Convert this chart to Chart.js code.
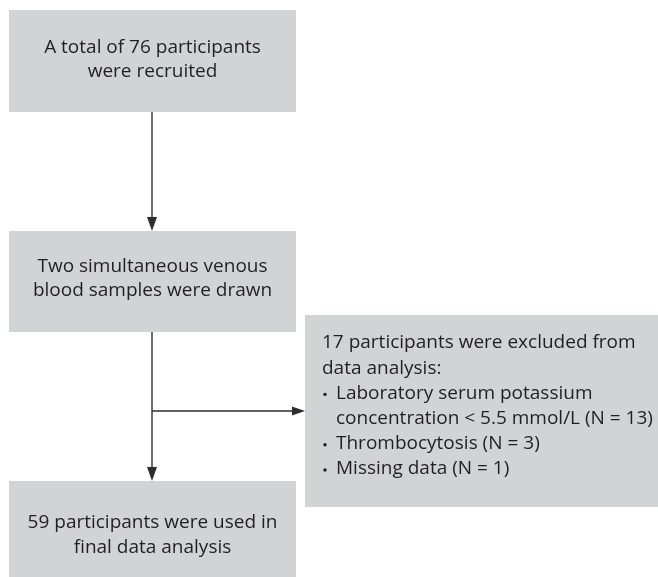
<!DOCTYPE html>
<html>
<head>
<meta charset="utf-8">
<script src="https://cdn.jsdelivr.net/npm/chart.js@4/dist/chart.umd.min.js"></script>
<style>
  html, body { margin: 0; padding: 0; background: #fff; }
  canvas { display: block; }
</style>
</head>
<body>
<canvas id="flow" width="658" height="577"></canvas>
<script>
// flow counts
const recruited = 76;
const excluded = 17;
const reasons = [["Laboratory serum potassium", "concentration < 5.5 mmol/L"], ["Thrombocytosis"], ["Missing data"]];
const reasonCounts = [13, 3, 1];
const analysed = 59;

const boxText = {
  recruit: ["A total of " + recruited + " participants", "were recruited"],
  samples: ["Two simultaneous venous", "blood samples were drawn"],
  final: [analysed + " participants were used in", "final data analysis"],
};

const excludedLines = [
  { text: excluded + " participants were excluded from", bullet: false },
  { text: "data analysis:", bullet: false },
];
reasons.forEach((lines, i) => {
  lines.forEach((line, j) => {
    const last = j === lines.length - 1;
    excludedLines.push({ text: last ? line + " (N = " + reasonCounts[i] + ")" : line, bullet: j === 0 });
  });
});

// layout, in the chart's own units (x 0..658, y 0..577 top-down)
const layout = {
  recruit: { x0: 9, x1: 296, y0: 10, y1: 112, lines: [48, 72] },
  samples: { x0: 9, x1: 296, y0: 231, y1: 332, lines: [267, 291] },
  final: { x0: 9, x1: 296, y0: 481, y1: 577, lines: [523, 548] },
  excluded: { x0: 305, x1: 658, y0: 315, y1: 507, textX: 322, bulletX: 325, indentX: 336, top: 343, step: 25.2 },
  trunkX: 152,
  branchY: 411,
};

const BOX_FILL = "#d1d3d4";
const INK = "#231f20";
const LINE = "#2e2e2e";
const FONT = "19px 'Open Sans', sans-serif";
const REF_LINE = "A total of " + recruited + " participants";
const REF_WIDTH = 217;

function arrowHead(ctx, x, y, dir) {
  ctx.beginPath();
  if (dir === "down") {
    ctx.moveTo(x, y);
    ctx.lineTo(x - 5, y - 14);
    ctx.lineTo(x + 5, y - 14);
  } else {
    ctx.moveTo(x, y);
    ctx.lineTo(x - 13, y - 4.5);
    ctx.lineTo(x - 13, y + 4.5);
  }
  ctx.closePath();
  ctx.fill();
}

function drawText(ctx, str, x, y, align, condense) {
  ctx.save();
  ctx.translate(x, y);
  ctx.scale(condense, 1);
  ctx.textAlign = align;
  ctx.fillText(str, 0, 0);
  ctx.restore();
}

const flowPlugin = {
  id: "flow",
  afterDatasetsDraw(chart) {
    const { ctx, scales } = chart;
    const px = v => scales.x.getPixelForValue(v);
    const py = v => scales.y.getPixelForValue(v);
    ctx.save();

    // boxes
    ["recruit", "samples", "final", "excluded"].forEach(k => {
      const b = layout[k];
      ctx.fillStyle = BOX_FILL;
      ctx.fillRect(px(b.x0), py(b.y0), px(b.x1) - px(b.x0), py(b.y1) - py(b.y0));
    });

    // connectors
    ctx.strokeStyle = LINE;
    ctx.fillStyle = LINE;
    ctx.lineWidth = 1.4;
    const tx = px(layout.trunkX);
    ctx.beginPath();
    ctx.moveTo(tx, py(layout.recruit.y1));
    ctx.lineTo(tx, py(layout.samples.y0) - 10);
    ctx.moveTo(tx, py(layout.samples.y1));
    ctx.lineTo(tx, py(layout.final.y0) - 10);
    ctx.moveTo(tx, py(layout.branchY));
    ctx.lineTo(px(layout.excluded.x0) - 10, py(layout.branchY));
    ctx.stroke();
    arrowHead(ctx, tx, py(layout.samples.y0), "down");
    arrowHead(ctx, tx, py(layout.final.y0), "down");
    arrowHead(ctx, px(layout.excluded.x0), py(layout.branchY), "right");

    // text, squeezed a little to the narrower face of the original
    ctx.fillStyle = INK;
    ctx.font = FONT;
    ctx.textBaseline = "middle";
    const condense = Math.min(1, REF_WIDTH / ctx.measureText(REF_LINE).width);
    ["recruit", "samples", "final"].forEach(k => {
      const b = layout[k];
      const cx = px((b.x0 + b.x1) / 2);
      boxText[k].forEach((line, i) => drawText(ctx, line, cx, py(b.lines[i]), "center", condense));
    });

    const e = layout.excluded;
    let inBullets = false;
    excludedLines.forEach((l, i) => {
      const y = py(e.top + i * e.step);
      if (l.bullet) {
        inBullets = true;
        ctx.beginPath();
        ctx.arc(px(e.bulletX), y + 1, 1.7, 0, Math.PI * 2);
        ctx.fill();
      }
      drawText(ctx, l.text, px(inBullets ? e.indentX : e.textX), y, "left", condense);
    });
    ctx.restore();
  },
};

new Chart(document.getElementById("flow"), {
  type: "scatter",
  data: { datasets: [{ data: [], pointRadius: 0 }] },
  options: {
    responsive: false,
    animation: false,
    layout: { padding: 0 },
    plugins: { legend: { display: false }, tooltip: { enabled: false } },
    scales: {
      x: { type: "linear", min: 0, max: 658, display: false },
      y: { type: "linear", min: 0, max: 577, reverse: true, display: false },
    },
  },
  plugins: [flowPlugin],
});
</script>
</body>
</html>
